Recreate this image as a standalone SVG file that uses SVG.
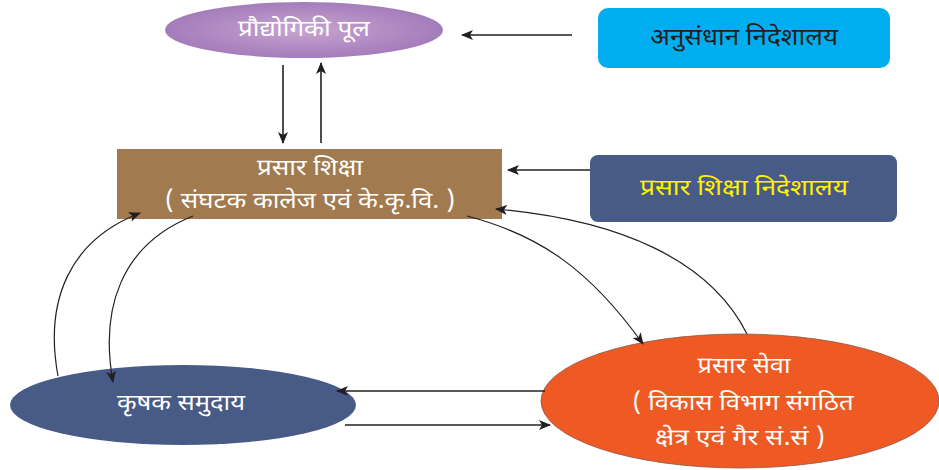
<svg xmlns="http://www.w3.org/2000/svg" width="939" height="470" viewBox="0 0 939 470">
<defs>
<radialGradient id="purp" cx="0.5" cy="0.5" r="0.5">
<stop offset="0" stop-color="#c7a5d0"/>
<stop offset="1" stop-color="#a47cbb"/>
</radialGradient>
<marker id="ah" viewBox="0 0 12 10" refX="11" refY="5" markerWidth="12" markerHeight="10" markerUnits="userSpaceOnUse" orient="auto">
<path d="M0 0 L12 5 L0 10 L3 5 Z" fill="#231f20"/>
</marker>
</defs>
<style>
text{font-family:"Noto Sans Devanagari","Noto Sans","DejaVu Sans",sans-serif;text-anchor:middle;dominant-baseline:central}
.w{fill:#ffffff;font-size:23px}
.k{fill:#231f20;font-size:24px}
.y{fill:#fff200;font-size:23px}
.c{fill:none;stroke:#231f20;stroke-width:1.2}
.s{fill:none;stroke:#231f20;stroke-width:1.6}
</style>
<rect width="939" height="470" fill="#ffffff"/>
<g id="node-pool">
<ellipse cx="304" cy="30" rx="139" ry="28" fill="url(#purp)"/>
<text class="w" x="304" y="30" textLength="132" lengthAdjust="spacingAndGlyphs">प्रौद्योगिकी पूल</text>
</g>
<g id="node-anusandhan">
<rect x="598" y="8" width="292" height="60" rx="10" fill="#00aeef"/>
<text class="k" x="744" y="39" textLength="188" lengthAdjust="spacingAndGlyphs">अनुसंधान निदेशालय</text>
</g>
<g id="node-prasar-shiksha">
<rect x="117" y="149" width="385" height="70" fill="#a27a4f"/>
<text class="w" x="310" y="169" textLength="106" lengthAdjust="spacingAndGlyphs">प्रसार शिक्षा</text>
<text class="w" x="310" y="202" textLength="290" lengthAdjust="spacingAndGlyphs">( संघटक कालेज एवं के.कृ.वि. )</text>
</g>
<g id="node-nideshalay">
<rect x="590" y="155" width="307" height="67" rx="8" fill="#485b87"/>
<text class="y" x="744" y="189" textLength="208" lengthAdjust="spacingAndGlyphs">प्रसार शिक्षा निदेशालय</text>
</g>
<g id="node-krishak">
<ellipse cx="183" cy="405" rx="173" ry="40" fill="#485b87"/>
<text class="w" x="181" y="404" textLength="128" lengthAdjust="spacingAndGlyphs">कृषक समुदाय</text>
</g>
<g id="node-prasar-seva">
<ellipse cx="740" cy="401" rx="199" ry="67" fill="#ef5a24" stroke="#8a5a4a" stroke-width="0.8"/>
<text class="w" x="744" y="367" textLength="93" lengthAdjust="spacingAndGlyphs">प्रसार सेवा</text>
<text class="w" x="743" y="404" textLength="221" lengthAdjust="spacingAndGlyphs">( विकास विभाग संगठित</text>
<text class="w" x="740" y="439" textLength="170" lengthAdjust="spacingAndGlyphs">क्षेत्र एवं गैर सं.सं )</text>
</g>
<g id="connectors">
<line class="s" x1="572" y1="35" x2="462" y2="35" marker-end="url(#ah)"/>
<line class="s" x1="283" y1="65" x2="283" y2="143" marker-end="url(#ah)"/>
<line class="s" x1="321" y1="143" x2="321" y2="63" marker-end="url(#ah)"/>
<line class="s" x1="590" y1="170" x2="508" y2="170" marker-end="url(#ah)"/>
<line class="s" x1="545" y1="391" x2="337" y2="391" marker-end="url(#ah)"/>
<line class="s" x1="345" y1="425" x2="550" y2="425" marker-end="url(#ah)"/>
<path class="c" d="M58 376 C44 300 70 240 140 213" marker-end="url(#ah)"/>
<path class="c" d="M193 216 C120 245 100 310 113 382" marker-end="url(#ah)"/>
<path class="c" d="M467 216 C540 235 590 270 643 344" marker-end="url(#ah)"/>
<path class="c" d="M747 334 C710 260 620 220 496 209" marker-end="url(#ah)"/>
</g>
</svg>
